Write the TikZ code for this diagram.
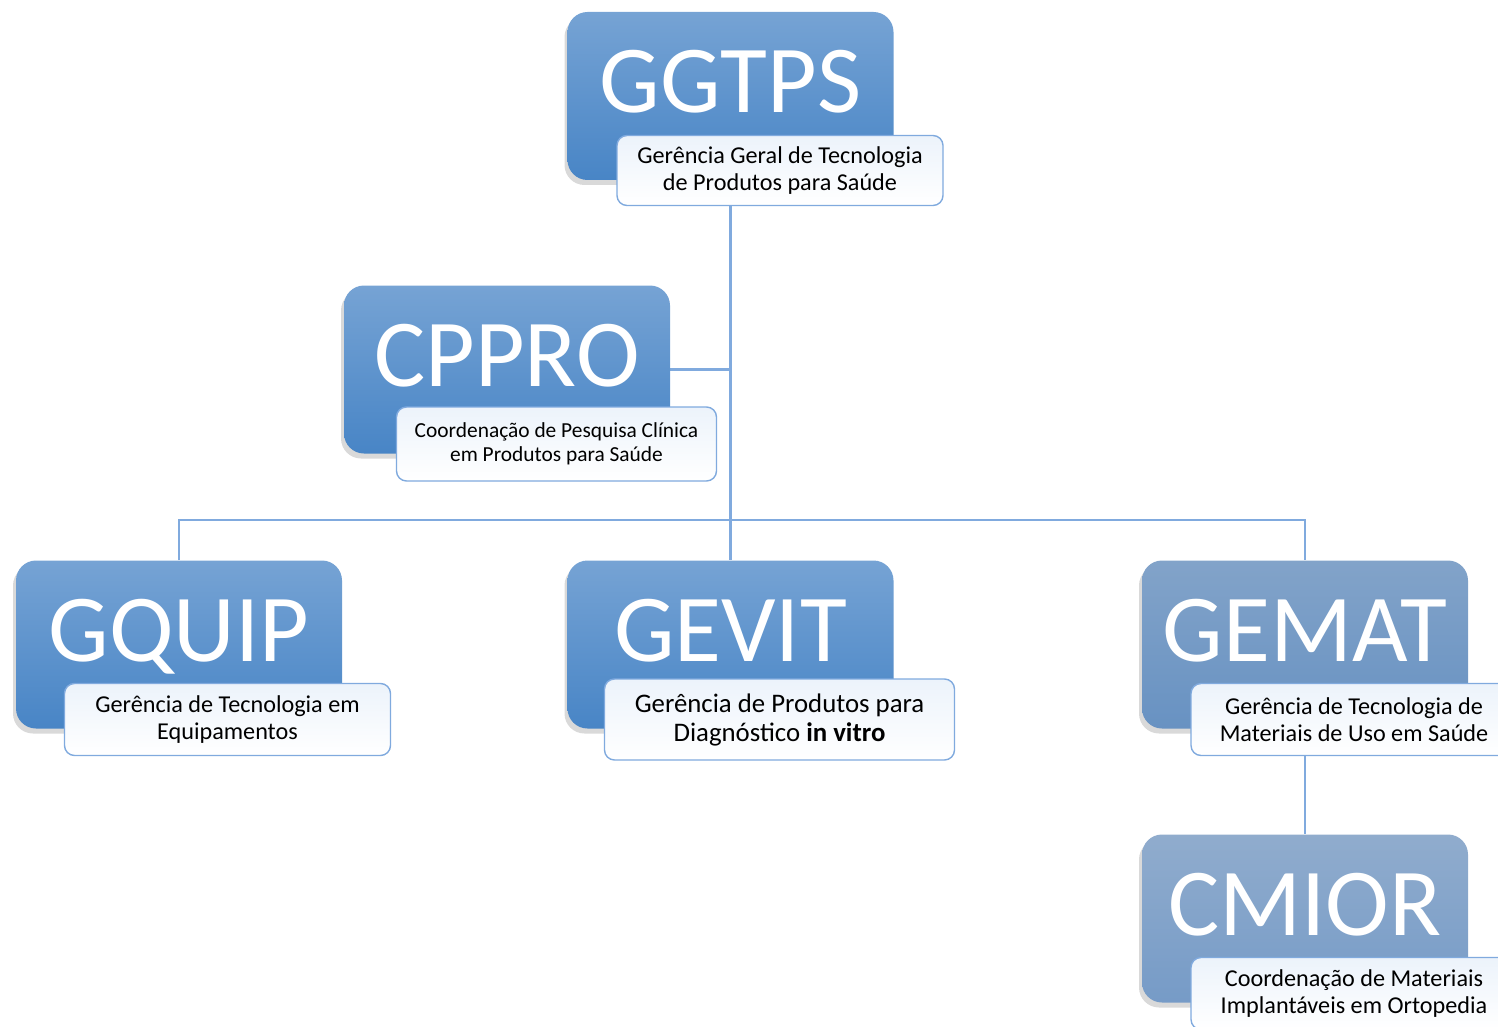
\documentclass[tikz,border=0pt]{standalone}
\usepackage{fontspec}
\setmainfont{Carlito}
\usetikzlibrary{backgrounds,shadows}

\definecolor{unittop}{RGB}{118,163,212}
\definecolor{unitbot}{RGB}{72,133,198}
\definecolor{mattop}{RGB}{130,163,201}
\definecolor{matbot}{RGB}{104,146,194}
\definecolor{ortop}{RGB}{144,172,205}
\definecolor{orbot}{RGB}{118,155,199}
\definecolor{edgeblue}{RGB}{128,170,222}
\definecolor{lbltop}{RGB}{236,243,251}

\begin{document}
\begin{tikzpicture}[x=0.5pt,y=-0.5pt,
  unitbox/.style={rounded corners=10pt,minimum width=163pt,minimum height=84pt,inner sep=0pt,
    top color=unittop,bottom color=unitbot,
    drop shadow={opacity=0.3,shadow xshift=-1.5pt,shadow yshift=-2.5pt},
    text=white,font=\fontsize{48}{48}\selectfont,text height=31pt,text depth=14pt},
  subbox/.style={draw=edgeblue,line width=0.7pt,rounded corners=5pt,top color=lbltop,bottom color=white,
    align=center,inner sep=0pt,minimum width=163pt,minimum height=36pt,
    font=\fontsize{12.1}{13.5}\selectfont},
  link/.style={draw=edgeblue,line width=1.3pt}]
\useasboundingbox (0,0) rectangle (1498,1027);

\node[unitbox] (ggtps) at (730.5,96) {GGTPS};
\node[subbox,minimum height=35pt] (ggtps-lbl) at (780,170.5) {Gerência Geral de Tecnologia\\de Produtos para Saúde};

\node[unitbox] (cppro) at (507,369.5) {CPPRO};
\node[subbox,font=\fontsize{10.7}{12}\selectfont,minimum width=160pt,minimum height=37pt] (cppro-lbl) at (556.5,444) {Coordenação de Pesquisa Clínica\\em Produtos para Saúde};

\node[unitbox] (gquip) at (179,644.5) {GQUIP};
\node[subbox] (gquip-lbl) at (227.5,719.5) {Gerência de Tecnologia em\\Equipamentos};

\node[unitbox] (gevit) at (730.5,644.5) {GEVIT};
\node[subbox,font=\fontsize{13.4}{14.5}\selectfont,minimum width=175pt,minimum height=40.5pt] (gevit-lbl) at (779.5,719.5) {Gerência de Produtos para\\Diagnóstico \textbf{in vitro}};

\node[unitbox,top color=mattop,bottom color=matbot] (gemat) at (1305,644.5) {GEMAT};
\node[subbox] (gemat-lbl) at (1354,719.5) {Gerência de Tecnologia de\\Materiais de Uso em Saúde};

\node[unitbox,top color=ortop,bottom color=orbot] (cmior) at (1305,918.5) {CMIOR};
\node[subbox] (cmior-lbl) at (1354,993.5) {Coordenação de Materiais\\Implantáveis em Ortopedia};

% connectors behind the boxes
\begin{scope}[on background layer]
\coordinate (bus) at (730.5,520);
\draw[link] (ggtps.center) -- (gevit.north);
\draw[link] (cppro.east) -- (cppro.east -| ggtps.center);
\draw[link] (gquip.north) |- (bus) -| (gemat.north);
\draw[link] (gemat.south) -- (cmior.north);
\end{scope}
\end{tikzpicture}
\end{document}
